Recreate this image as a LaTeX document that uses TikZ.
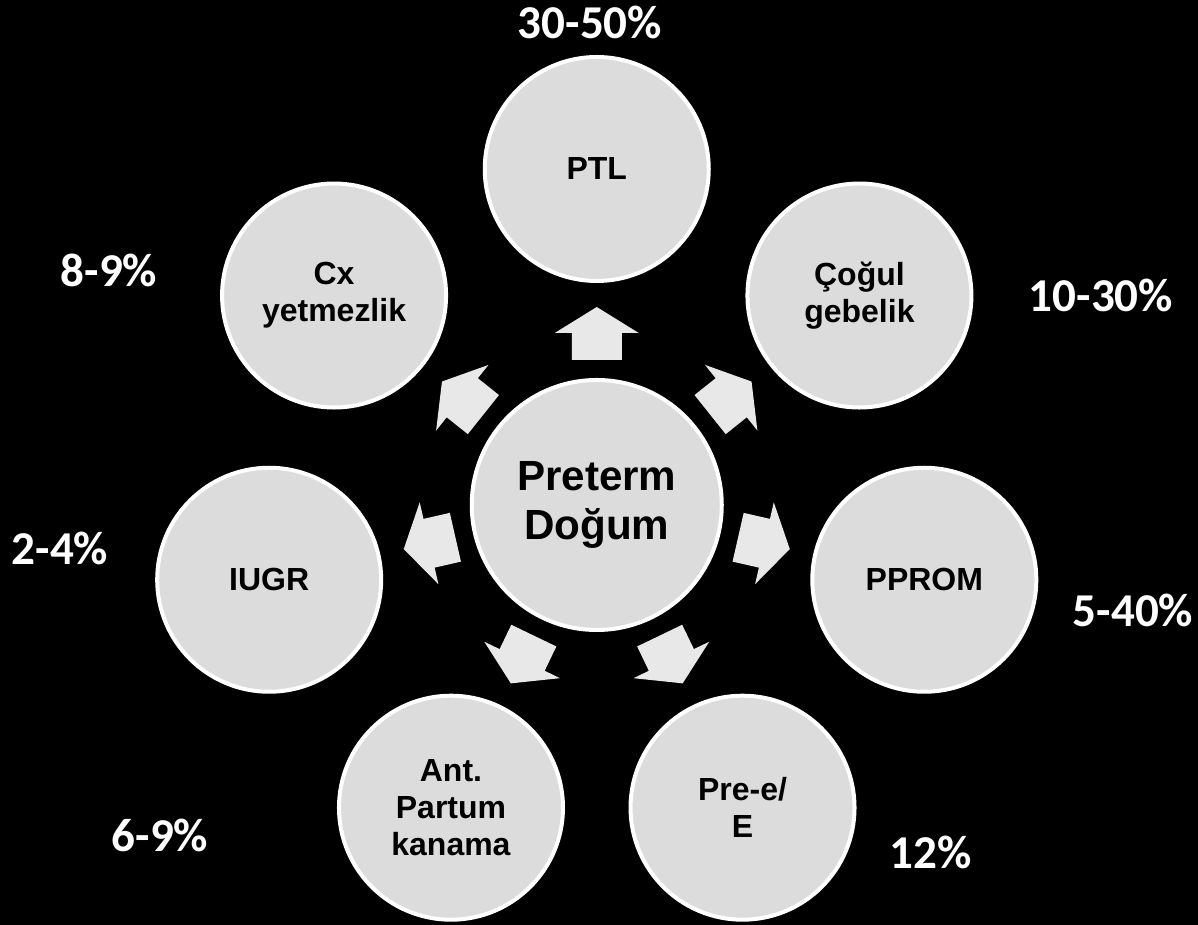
\documentclass[tikz,border=0pt]{standalone}
\usepackage{fontspec}
\setmainfont{Liberation Sans}
\newfontfamily\pctfont{Carlito}
\usetikzlibrary{calc,positioning}
\definecolor{discfill}{HTML}{DCDCDC}
\definecolor{arrfill}{HTML}{E8E8E8}

\begin{document}
\begin{tikzpicture}[
  outer/.style={circle, draw=white, line width=0.04cm, fill=discfill,
    minimum size=2.24cm, inner sep=0pt, align=center,
    font=\bfseries\fontsize{9.1}{10.5}\selectfont},
  hub/.style={outer, minimum size=2.5cm,
    font=\bfseries\fontsize{12}{13.7}\selectfont},
  pct/.style={text=white, inner sep=0pt,
    font=\pctfont\bfseries\fontsize{13.4}{15}\selectfont},
  blk/.style={fill=arrfill}]
\fill[black] (0,0) rectangle (11.98,-9.25);
\useasboundingbox (0,0) rectangle (11.98,-9.25);
% centre
\node[hub] (pd) at (5.9675,-5.05) {Preterm\\Do\u{g}um};
% causes, one on each spoke
\node[outer] (ptl) at ($(pd)+(90:3.36)$) {PTL};
\node[outer] (cog) at ($(pd)+(38.571:3.36)$) {Ço\u{g}ul\\gebelik};
\node[outer] (ppr) at ($(pd)+(-12.857:3.36)$) {PPROM};
\node[outer] (pre) at ($(pd)+(-64.286:3.36)$) {Pre-e/\\E};
\node[outer] (apk) at ($(pd)+(-115.714:3.36)$) {Ant.\\Partum\\kanama};
\node[outer] (iug) at ($(pd)+(-167.143:3.36)$) {IUGR};
\node[outer] (cxy) at ($(pd)+(141.429:3.36)$) {Cx\\yetmezlik};
% block arrows out of the centre
\foreach \a in {90,38.571,-12.857,-64.286,-115.714,-167.143,141.429}
  \fill[blk, shift={(pd.center)}, rotate=\a]
    (1.45,0.25) -- (1.72,0.25) -- (1.72,0.42) -- (1.98,0)
    -- (1.72,-0.42) -- (1.72,-0.25) -- (1.45,-0.25) -- cycle;
% rates
\node[pct] (p1) at (5.90,-0.22) {30-50\%};
\node[pct] (p2) at (11.01,-2.95) {10-30\%};
\node[pct] (p3) at (11.33,-6.10) {5-40\%};
\node[pct] (p4) at (9.31,-8.52) {12\%};
\node[pct] (p5) at (1.60,-8.35) {6-9\%};
\node[pct] (p6) at (0.60,-5.48) {2-4\%};
\node[pct] (p7) at (1.09,-2.70) {8-9\%};
\end{tikzpicture}
\end{document}
